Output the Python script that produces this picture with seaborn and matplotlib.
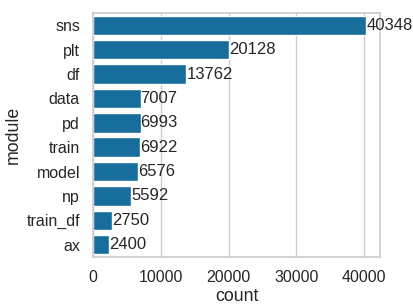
import matplotlib
matplotlib.use("Agg")
import matplotlib.pyplot as plt
import seaborn as sns
import pandas as pd

modules = ['sns', 'plt', 'df', 'data', 'pd', 'train', 'model', 'np', 'train_df', 'ax']
counts = [40348, 20128, 13762, 7007, 6993, 6922, 6576, 5592, 2750, 2400]

df = pd.DataFrame({'module': modules, 'count': counts})

sns.set_theme(style='whitegrid', palette='colorblind', font_scale=1.0)
plt.rcParams['font.family'] = ['Liberation Sans', 'DejaVu Sans']

fig, ax = plt.subplots(figsize=(4.14, 3.04), dpi=100)
sns.barplot(data=df, y='module', x='count', ax=ax, color=sns.color_palette('colorblind')[0])
for c in ax.containers:
    ax.bar_label(c, fontsize=12, color='#262626', padding=0)
ax.tick_params(labelsize=11.5)
ax.set_xlabel('count', fontsize=12.8, labelpad=2)
ax.set_ylabel('module', fontsize=12.8, labelpad=3)
fig.subplots_adjust(left=0.225, right=0.918, top=0.957, bottom=0.155)
fig.savefig('out.png')
